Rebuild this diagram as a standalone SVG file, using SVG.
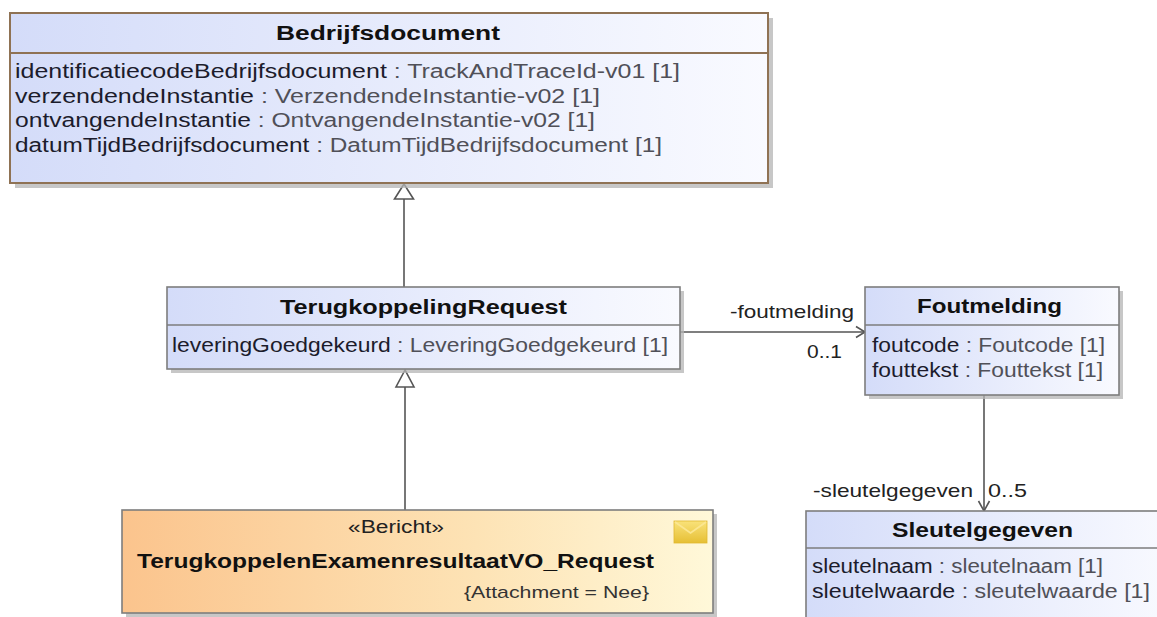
<svg xmlns="http://www.w3.org/2000/svg" width="1157" height="617" viewBox="0 0 1157 617">
<style>
text{font-family:"Liberation Sans",Arial,sans-serif;}
.t{font-weight:bold;font-size:20px;fill:#111;}
.a{font-size:19.5px;fill:#1c1c2c;}
.ty{fill:#505058;}
.l{font-size:19px;fill:#222;}
.box{stroke:#7d7d7d;stroke-width:1.6;}
.bd{stroke:#8f7254;stroke-width:2;}
.sh{fill:#b4b4b4;opacity:0.75;}
.c{stroke:#555;stroke-width:1.6;fill:none;}
.gen{stroke:#555;stroke-width:1.6;fill:#fff;}
</style>
<defs>
<linearGradient id="blue" x1="0" y1="0" x2="1" y2="0">
<stop offset="0" stop-color="#d4dcf9"/>
<stop offset="1" stop-color="#f9faff"/>
</linearGradient>
<linearGradient id="orange" x1="0" y1="0" x2="1" y2="0">
<stop offset="0" stop-color="#fbc48d"/>
<stop offset="0.6" stop-color="#fde3b5"/>
<stop offset="1" stop-color="#fff8d9"/>
</linearGradient>
<linearGradient id="env" x1="0" y1="0" x2="0" y2="1">
<stop offset="0" stop-color="#f9e27a"/>
<stop offset="1" stop-color="#e6bf34"/>
</linearGradient>
</defs>

<g id="connectors">
<line class="c" x1="404" y1="287" x2="404" y2="199"/>
<polygon class="gen" points="404,184 394.5,199 413.5,199"/>
<line class="c" x1="405" y1="510" x2="405" y2="387"/>
<polygon class="gen" points="405,370 396,387 414,387"/>
<line class="c" x1="680" y1="332" x2="865" y2="332"/>
<polyline class="c" points="856,326.5 865,332 856,337.5"/>
<line class="c" x1="984" y1="395" x2="984" y2="511"/>
<polyline class="c" points="978.5,501 984,511 989.5,501"/>
<text class="l" x="730" y="318" textLength="124" lengthAdjust="spacingAndGlyphs">-foutmelding</text>
<text class="l" x="807" y="358" textLength="35" lengthAdjust="spacingAndGlyphs">0..1</text>
<text class="l" x="813" y="497" textLength="160" lengthAdjust="spacingAndGlyphs">-sleutelgegeven</text>
<text class="l" x="988" y="497" textLength="39" lengthAdjust="spacingAndGlyphs">0..5</text>
</g>

<g id="Bedrijfsdocument">
<rect class="sh" x="15" y="18" width="758" height="170"/>
<rect class="bd" x="10" y="13" width="758" height="170" fill="url(#blue)"/>
<line class="bd" x1="10" y1="53" x2="768" y2="53"/>
<text class="t" x="276" y="40" font-size="20.5" textLength="224" lengthAdjust="spacingAndGlyphs">Bedrijfsdocument</text>
<text class="a" x="15" y="78" textLength="665" lengthAdjust="spacingAndGlyphs">identificatiecodeBedrijfsdocument<tspan class="ty"> : TrackAndTraceId-v01 [1]</tspan></text>
<text class="a" x="15" y="102.5" textLength="585" lengthAdjust="spacingAndGlyphs">verzendendeInstantie<tspan class="ty"> : VerzendendeInstantie-v02 [1]</tspan></text>
<text class="a" x="15" y="127" textLength="580" lengthAdjust="spacingAndGlyphs">ontvangendeInstantie<tspan class="ty"> : OntvangendeInstantie-v02 [1]</tspan></text>
<text class="a" x="15" y="151.5" textLength="647" lengthAdjust="spacingAndGlyphs">datumTijdBedrijfsdocument<tspan class="ty"> : DatumTijdBedrijfsdocument [1]</tspan></text>
</g>

<g id="TerugkoppelingRequest">
<rect class="sh" x="171" y="291" width="513" height="82"/>
<rect class="box" x="167" y="287" width="513" height="82" fill="url(#blue)"/>
<line class="box" x1="167" y1="325" x2="680" y2="325"/>
<text class="t" x="280" y="314" textLength="287" lengthAdjust="spacingAndGlyphs">TerugkoppelingRequest</text>
<text class="a" x="172" y="352" textLength="496" lengthAdjust="spacingAndGlyphs">leveringGoedgekeurd<tspan class="ty"> : LeveringGoedgekeurd [1]</tspan></text>
</g>

<g id="Foutmelding">
<rect class="sh" x="869" y="291" width="254" height="108"/>
<rect class="box" x="865" y="287" width="254" height="108" fill="url(#blue)"/>
<line class="box" x1="865" y1="325" x2="1119" y2="325"/>
<text class="t" x="917" y="313" textLength="145" lengthAdjust="spacingAndGlyphs">Foutmelding</text>
<text class="a" x="872" y="352" textLength="233" lengthAdjust="spacingAndGlyphs">foutcode<tspan class="ty"> : Foutcode [1]</tspan></text>
<text class="a" x="872" y="377" textLength="231" lengthAdjust="spacingAndGlyphs">fouttekst<tspan class="ty"> : Fouttekst [1]</tspan></text>
</g>

<g id="Sleutelgegeven">
<rect class="box" x="806" y="511" width="370" height="130" fill="url(#blue)"/>
<line class="box" x1="806" y1="548" x2="1157" y2="548"/>
<text class="t" x="892" y="537" textLength="181" lengthAdjust="spacingAndGlyphs">Sleutelgegeven</text>
<text class="a" x="812" y="573" textLength="291" lengthAdjust="spacingAndGlyphs">sleutelnaam<tspan class="ty"> : sleutelnaam [1]</tspan></text>
<text class="a" x="812" y="598" textLength="338" lengthAdjust="spacingAndGlyphs">sleutelwaarde<tspan class="ty"> : sleutelwaarde [1]</tspan></text>
</g>

<g id="TerugkoppelenExamenresultaatVO_Request">
<rect class="sh" x="126" y="514" width="591" height="103"/>
<rect class="box" x="122" y="510" width="591" height="103" fill="url(#orange)" stroke="#8a8578"/>
<text x="348" y="533" font-size="18" fill="#222" textLength="96" lengthAdjust="spacingAndGlyphs">«Bericht»</text>
<text class="t" x="137" y="568" textLength="517" lengthAdjust="spacingAndGlyphs">TerugkoppelenExamenresultaatVO_Request</text>
<text x="464" y="598" font-size="17" fill="#333" textLength="185" lengthAdjust="spacingAndGlyphs">{Attachment = Nee}</text>
<rect x="674" y="521" width="33" height="22" fill="url(#env)" stroke="#e0b830" stroke-width="0.8"/>
<polyline points="675,522 690.5,533 706,522" fill="none" stroke="#fbe690" stroke-width="1.8"/>
</g>
</svg>
